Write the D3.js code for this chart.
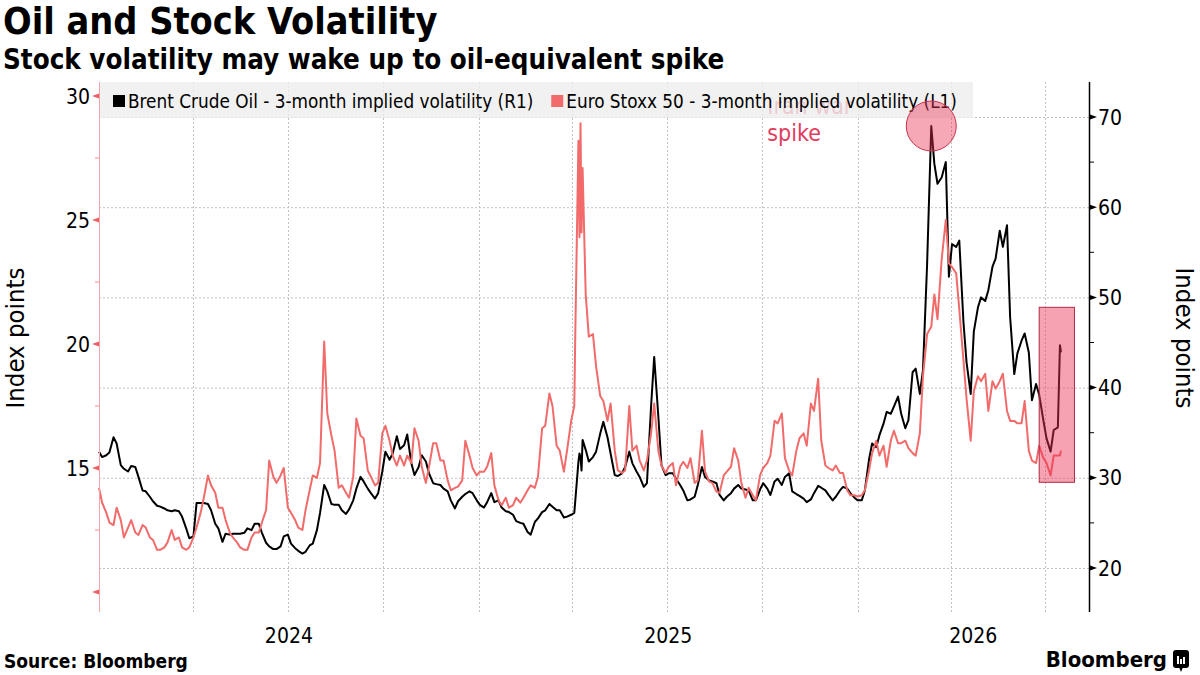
<!DOCTYPE html>
<html lang="en">

<head>
    <meta charset="utf-8">
    <title>Oil and Stock Volatility</title>
    <script src="https://d3js.org/d3.v7.min.js"></script>
    <style>
        body {
            margin: 0;
            background: #fff;
        }

        svg text {
            font-family: "DejaVu Sans Condensed", "DejaVu Sans", sans-serif;
            fill: #000;
        }

        .grid line {
            stroke: #c2c2c2;
            stroke-width: 1px;
            stroke-dasharray: 2, 2;
        }
    </style>
</head>

<body>
    <svg id="chart" width="1200" height="675"></svg>
</body>
<script>
    // twice-weekly readings (Mon / Thu), plus extra days around the spikes
    var dates = [
        "2024-01-01", "2024-01-04", "2024-01-08", "2024-01-11", "2024-01-15", "2024-01-18", "2024-01-22", "2024-01-25",
        "2024-01-29", "2024-02-01", "2024-02-05", "2024-02-08", "2024-02-12", "2024-02-15", "2024-02-19", "2024-02-22",
        "2024-02-26", "2024-02-29", "2024-03-04", "2024-03-07", "2024-03-11", "2024-03-14", "2024-03-18", "2024-03-21",
        "2024-03-25", "2024-03-28", "2024-04-01", "2024-04-04", "2024-04-08", "2024-04-11", "2024-04-15", "2024-04-18",
        "2024-04-22", "2024-04-25", "2024-04-29", "2024-05-02", "2024-05-06", "2024-05-09", "2024-05-13", "2024-05-16",
        "2024-05-20", "2024-05-23", "2024-05-27", "2024-05-30", "2024-06-03", "2024-06-06", "2024-06-10", "2024-06-13",
        "2024-06-17", "2024-06-20", "2024-06-24", "2024-06-27", "2024-07-01", "2024-07-04", "2024-07-08", "2024-07-11",
        "2024-07-15", "2024-07-18", "2024-07-22", "2024-07-25", "2024-07-29", "2024-08-01", "2024-08-05", "2024-08-08",
        "2024-08-12", "2024-08-15", "2024-08-19", "2024-08-22", "2024-08-26", "2024-08-29", "2024-09-02", "2024-09-05",
        "2024-09-09", "2024-09-12", "2024-09-16", "2024-09-19", "2024-09-23", "2024-09-26", "2024-09-30", "2024-10-03",
        "2024-10-07", "2024-10-10", "2024-10-14", "2024-10-17", "2024-10-21", "2024-10-24", "2024-10-28", "2024-10-31",
        "2024-11-04", "2024-11-07", "2024-11-11", "2024-11-14", "2024-11-18", "2024-11-21", "2024-11-25", "2024-11-28",
        "2024-12-02", "2024-12-05", "2024-12-09", "2024-12-12", "2024-12-16", "2024-12-19", "2024-12-23", "2024-12-26", "2024-12-30", "2025-01-02",
        "2025-01-06", "2025-01-09", "2025-01-13", "2025-01-16", "2025-01-20", "2025-01-23", "2025-01-27", "2025-01-30",
        "2025-02-03", "2025-02-06", "2025-02-10", "2025-02-13", "2025-02-17", "2025-02-20", "2025-02-24", "2025-02-27",
        "2025-03-03", "2025-03-06", "2025-03-10", "2025-03-13", "2025-03-17", "2025-03-20", "2025-03-24", "2025-03-27",
        "2025-03-31", "2025-04-03", "2025-04-04", "2025-04-07", "2025-04-08", "2025-04-09", "2025-04-10", "2025-04-11", "2025-04-14", "2025-04-17",
        "2025-04-21", "2025-04-24", "2025-04-28", "2025-05-01", "2025-05-05", "2025-05-08", "2025-05-12", "2025-05-15",
        "2025-05-19", "2025-05-22", "2025-05-26", "2025-05-29", "2025-06-02", "2025-06-05", "2025-06-09", "2025-06-12",
        "2025-06-16", "2025-06-19", "2025-06-23", "2025-06-26", "2025-06-30", "2025-07-03", "2025-07-07", "2025-07-10",
        "2025-07-14", "2025-07-17", "2025-07-21", "2025-07-24", "2025-07-28", "2025-07-31", "2025-08-04", "2025-08-07",
        "2025-08-11", "2025-08-14", "2025-08-18", "2025-08-21", "2025-08-25", "2025-08-28", "2025-09-01", "2025-09-04",
        "2025-09-08", "2025-09-11", "2025-09-15", "2025-09-18", "2025-09-22", "2025-09-25", "2025-09-29", "2025-10-02",
        "2025-10-06", "2025-10-09", "2025-10-13", "2025-10-16", "2025-10-20", "2025-10-23", "2025-10-27", "2025-10-30",
        "2025-11-03", "2025-11-06", "2025-11-10", "2025-11-13", "2025-11-17", "2025-11-20", "2025-11-24", "2025-11-27",
        "2025-12-01", "2025-12-04", "2025-12-08", "2025-12-11", "2025-12-15", "2025-12-18", "2025-12-22", "2025-12-25", "2025-12-29", "2026-01-01",
        "2026-01-05", "2026-01-08", "2026-01-12", "2026-01-15", "2026-01-19", "2026-01-22", "2026-01-26", "2026-01-29",
        "2026-02-02", "2026-02-05", "2026-02-09", "2026-02-12", "2026-02-16", "2026-02-19", "2026-02-23", "2026-02-26",
        "2026-03-02", "2026-03-05", "2026-03-09", "2026-03-13", "2026-03-16", "2026-03-19", "2026-03-23", "2026-03-27",
        "2026-03-30", "2026-04-02", "2026-04-06", "2026-04-09", "2026-04-13", "2026-04-16", "2026-04-20", "2026-04-23",
        "2026-04-27", "2026-04-30", "2026-05-04", "2026-05-07", "2026-05-11", "2026-05-14", "2026-05-18", "2026-05-21",
        "2026-05-25", "2026-05-28", "2026-06-01", "2026-06-04", "2026-06-08", "2026-06-11", "2026-06-15", "2026-06-18",
        "2026-06-22", "2026-06-25", "2026-06-29", "2026-07-02", "2026-07-06", "2026-07-09", "2026-07-13", "2026-07-15", "2026-07-16"
    ];

    // Brent crude 3m implied vol (right axis)
    var oilVol = [
        32.9, 32.3, 32.5, 32.8, 34.5, 33.8, 31.4, 31.0,
        30.7, 31.3, 31.2, 30.1, 28.6, 28.5, 27.9, 27.4,
        26.9, 26.8, 26.6, 26.4, 26.3, 26.4, 26.3, 25.7,
        24.4, 23.3, 23.5, 27.2, 27.2, 27.2, 27.1, 26.4,
        24.9, 24.4, 22.9, 23.8, 23.7, 23.8, 23.8, 23.8,
        23.9, 24.4, 24.2, 24.9, 24.9, 23.9, 22.8, 22.4,
        22.1, 22.1, 22.4, 23.5, 23.7, 22.7, 22.2, 21.9,
        21.6, 21.8, 22.5, 22.7, 24.2, 26.1, 29.2, 28.5,
        27.1, 27.0, 27.0, 26.4, 26.0, 26.5, 27.5, 28.8,
        30.1, 29.6, 28.8, 28.3, 27.7, 28.3, 30.7, 32.9,
        32.0, 32.7, 34.6, 33.2, 33.6, 34.8, 31.6, 30.3,
        31.2, 32.5, 31.8, 30.5, 29.4, 29.3, 29.2, 28.8,
        28.5, 27.5, 26.6, 27.4, 27.9, 28.2, 28.5, 28.3, 27.5, 27.0,
        26.7, 27.3, 28.3, 27.3, 27.5, 26.7, 26.3, 26.2,
        25.9, 25.2, 25.0, 24.9, 24.0, 23.7, 25.1, 25.5,
        26.2, 26.4, 27.1, 26.8, 26.4, 26.4, 25.6, 25.7,
        25.9, 26.1, 27.5, 31.8, 32.7, 32.3, 30.8, 34.2, 33.1, 31.8,
        32.3, 32.9, 34.9, 36.2, 34.5, 32.7, 30.3, 30.2,
        30.5, 31.2, 32.9, 31.6, 30.7, 30.1, 29.0, 29.4,
        37.9, 43.4, 36.8, 31.4, 30.3, 30.5, 30.5, 29.9,
        29.2, 28.6, 27.5, 27.6, 27.9, 29.2, 31.2, 30.1,
        29.7, 29.6, 29.4, 28.1, 27.5, 27.9, 28.3, 28.8,
        29.2, 28.8, 28.7, 28.6, 27.5, 27.5, 28.7, 29.4,
        28.8, 28.1, 29.6, 29.9, 29.2, 30.1, 30.5, 28.5,
        28.2, 28.0, 27.7, 27.3, 27.6, 28.3, 29.1, 28.9,
        28.6, 28.1, 27.5, 27.9, 28.6, 29.0, 28.8, 28.3, 27.8, 27.5,
        27.5, 28.6, 32.0, 33.8, 33.4, 34.7, 36.0, 37.3,
        37.1, 37.9, 39.0, 37.1, 35.5, 36.4, 41.7, 42.1,
        39.3, 41.9, 53.7, 69.0, 64.8, 62.6, 63.3, 65.0,
        52.3, 55.9, 55.6, 56.3, 47.3, 42.8, 39.3, 46.2,
        48.9, 50.0, 49.6, 50.8, 53.4, 54.3, 57.4, 55.6,
        58.0, 47.8, 41.5, 43.8, 45.2, 46.0, 43.9, 38.6,
        40.4, 39.2, 36.4, 34.4, 32.9, 35.3, 35.6, 44.7, 43.9
    ];

    // Euro Stoxx 50 3m implied vol (left axis)
    var stoxxVol = [
        14.2, 13.6, 13.2, 12.8, 12.7, 13.4, 12.9, 12.2,
        12.6, 12.9, 12.4, 12.3, 12.7, 12.6, 12.2, 12.1,
        11.7, 11.7, 11.8, 12.0, 12.5, 12.1, 12.2, 11.8,
        11.7, 11.8, 12.2, 12.6, 13.2, 13.8, 14.7, 14.3,
        14.0, 13.4, 13.4, 12.9, 12.4, 12.2, 12.0, 11.8,
        11.7, 11.7, 12.2, 12.4, 12.4, 12.8, 13.3, 15.3,
        14.65, 14.4, 14.7, 15.0, 13.4, 13.2, 12.9, 12.6,
        12.5, 13.3, 14.1, 14.7, 14.6, 15.2, 20.1, 17.2,
        16.3, 15.7, 14.2, 14.3, 14.0, 13.8, 14.65, 17.0,
        16.3, 16.2, 14.9, 14.65, 14.3, 14.4, 16.4, 16.7,
        16.1, 15.5, 15.1, 15.5, 15.1, 15.5, 15.2, 16.6,
        16.1, 15.05, 14.4, 15.05, 16.0, 16.0, 15.3, 15.3,
        14.5, 14.1, 14.2, 14.25, 14.5, 16.1, 15.5, 15.0, 14.7, 14.85,
        14.85, 15.05, 15.6, 14.3, 13.7, 13.5, 13.8, 13.4,
        13.5, 13.8, 13.6, 13.8, 14.1, 14.3, 14.2, 14.65,
        16.6, 16.7, 18.0, 17.5, 15.9, 15.7, 14.85, 15.7,
        16.9, 17.5, 20.5, 28.2, 24.3, 28.9, 24.5, 27.1, 22.0, 20.3,
        20.4, 19.1, 17.9, 17.7, 16.9, 17.6, 15.7, 14.9,
        14.8, 14.9, 17.5, 15.7, 15.9, 15.3, 14.9, 15.3,
        16.4, 17.6, 15.7, 15.1, 14.8, 15.05, 15.2, 14.3,
        15.05, 15.25, 15.0, 15.4, 14.4, 14.5, 16.5, 14.85,
        14.45, 14.4, 14.05, 14.0, 14.7, 14.85, 15.05, 15.8,
        15.3, 14.4, 13.8, 14.2, 13.9, 13.7, 14.7, 15.0,
        15.2, 15.5, 16.9, 16.8, 17.2, 15.4, 14.9, 14.7,
        15.7, 16.2, 16.4, 15.9, 17.6, 17.3, 18.6, 16.1,
        15.1, 15.0, 14.9, 15.1, 14.8, 14.8, 14.1, 13.9, 13.9, 13.85,
        13.9, 14.1, 14.9, 15.6, 16.1, 15.5, 15.9, 15.05,
        16.1, 16.5, 16.0, 16.0, 16.1, 15.8, 15.6, 15.5,
        16.4, 18.7, 20.4, 20.7, 22.0, 21.0, 23.4, 25.0,
        23.25, 23.1, 22.85, 21.4, 19.35, 17.8, 16.1, 18.1,
        18.7, 18.5, 18.8, 17.3, 18.5, 18.2, 18.5, 18.8,
        17.3, 16.9, 16.9, 16.8, 16.8, 17.7, 15.7, 15.3,
        15.2, 15.9, 15.4, 15.2, 14.7, 15.5, 15.5, 15.5, 15.7
    ];

    var leftTicks = [10, 15, 20, 25, 30];
    var leftMinor = [12.5, 17.5, 22.5, 27.5];
    var rightTicks = [20, 30, 40, 50, 60, 70];
    var rightMinor = [25, 35, 45, 55, 65];
    var years = ["2024", "2025", "2026"];
    var seriesNames = ["Brent Crude Oil - 3-month implied volatility (R1)", "Euro Stoxx 50 - 3-month implied volatility (L1)"];

    // annotations
    var spikeDate = "2026-03-13";
    var spikeText = ["Iran war", "spike"];
    var spikeTextAt = { date: "2025-10-06", value: 70.3 };
    var recentBox = { from: "2026-06-25", to: "2026-07-29", low: 29.5, high: 48.9 };

    var OIL_COLOR = "#000000";
    var STOXX_COLOR = "#f26b6b";
    var NOTE_COLOR = "#e23c5c";

    var plot = { left: 99, right: 1089, top: 82, bottom: 612 };

    var parse = d3.timeParse("%Y-%m-%d");
    var pts = dates.map(function (d, i) {
        return { date: parse(d), oil: oilVol[i], stoxx: stoxxVol[i] };
    });

    var x = d3.scaleTime()
        .domain([parse("2024-01-01"), parse("2026-08-12")])
        .range([plot.left, plot.right]);
    var yL = d3.scaleLinear().domain([10, 30]).range([592, 96]);
    var yR = d3.scaleLinear().domain([20, 70]).range([568, 117]);

    var svg = d3.select("#chart");

    // titles
    svg.append("text")
        .attr("x", 3).attr("y", 34)
        .style("font-size", "37.5px").style("font-weight", "bold")
        .text("Oil and Stock Volatility");
    svg.append("text")
        .attr("x", 3).attr("y", 69)
        .style("font-size", "27.5px").style("font-weight", "bold")
        .text("Stock volatility may wake up to oil-equivalent spike");

    // grid
    var grid = svg.append("g").attr("class", "grid");
    grid.selectAll(".h").data(rightTicks).enter().append("line")
        .attr("x1", plot.left).attr("x2", plot.right)
        .attr("y1", d => yR(d) + 0.5).attr("y2", d => yR(d) + 0.5);
    grid.selectAll(".v").data(d3.timeMonths(parse("2024-04-01"), x.domain()[1], 3)).enter().append("line")
        .attr("x1", d => Math.round(x(d)) + 0.5).attr("x2", d => Math.round(x(d)) + 0.5)
        .attr("y1", plot.top).attr("y2", plot.bottom);

    // annotation text (sits under the legend)
    svg.append("g").selectAll("text").data(spikeText).enter().append("text")
        .attr("x", x(parse(spikeTextAt.date)))
        .attr("y", (d, i) => yR(spikeTextAt.value) + i * 27)
        .style("font-size", "23px")
        .style("fill", NOTE_COLOR)
        .text(d => d);

    // lines
    var oilLine = d3.line().x(d => x(d.date)).y(d => yR(d.oil));
    var stoxxLine = d3.line().x(d => x(d.date)).y(d => yL(d.stoxx));

    svg.append("path")
        .attr("d", oilLine(pts))
        .attr("fill", "none").attr("stroke", OIL_COLOR)
        .attr("stroke-width", 2).attr("stroke-linejoin", "round");
    svg.append("path")
        .attr("d", stoxxLine(pts))
        .attr("fill", "none").attr("stroke", STOXX_COLOR)
        .attr("stroke-width", 2).attr("stroke-linejoin", "round");

    // legend
    var legend = svg.append("g");
    legend.append("rect")
        .attr("x", plot.left).attr("y", plot.top)
        .attr("width", 874).attr("height", 36)
        .attr("fill", "#eeeeee").attr("opacity", 0.8);
    legend.append("rect")
        .attr("x", 113).attr("y", 95).attr("width", 12).attr("height", 12)
        .attr("fill", OIL_COLOR);
    var t1 = legend.append("text")
        .attr("x", 128).attr("y", 108)
        .style("font-size", "18.8px")
        .text(seriesNames[0]);
    var x2 = 128 + t1.node().getComputedTextLength() + 18;
    legend.append("rect")
        .attr("x", x2).attr("y", 95).attr("width", 12).attr("height", 12)
        .attr("fill", STOXX_COLOR);
    legend.append("text")
        .attr("x", x2 + 15).attr("y", 108)
        .style("font-size", "18.8px")
        .text(seriesNames[1]);

    // spike circle and recent box
    var peak = pts.find(d => d3.timeFormat("%Y-%m-%d")(d.date) === spikeDate);
    svg.append("circle")
        .attr("cx", x(peak.date)).attr("cy", yR(peak.oil))
        .attr("r", 25)
        .attr("fill", "rgba(236,48,84,0.42)")
        .attr("stroke", "#c8324f").attr("stroke-width", 1);
    svg.append("rect")
        .attr("x", x(parse(recentBox.from)))
        .attr("y", yR(recentBox.high))
        .attr("width", x(parse(recentBox.to)) - x(parse(recentBox.from)))
        .attr("height", yR(recentBox.low) - yR(recentBox.high))
        .attr("fill", "rgba(236,48,84,0.45)")
        .attr("stroke", "#b02a45").attr("stroke-width", 1);

    // left axis (Euro Stoxx)
    var la = svg.append("g");
    la.append("line")
        .attr("x1", plot.left + 0.5).attr("x2", plot.left + 0.5)
        .attr("y1", plot.top).attr("y2", plot.bottom)
        .attr("stroke", "#f4a6a6").attr("stroke-width", 1);
    la.selectAll(".tri").data(leftTicks).enter().append("path")
        .attr("d", d => "M" + (plot.left) + "," + (yL(d) - 2.5) + "L" + (plot.left) + "," + (yL(d) + 2.5) + "L" + (plot.left - 7) + "," + yL(d) + "Z")
        .attr("fill", "#ec5f64");
    la.selectAll(".mn").data(leftMinor).enter().append("line")
        .attr("x1", plot.left - 4).attr("x2", plot.left)
        .attr("y1", d => yL(d)).attr("y2", d => yL(d))
        .attr("stroke", "#f08a8a");
    la.selectAll(".lbl").data(leftTicks.filter(d => d > 10)).enter().append("text")
        .attr("x", 90).attr("y", d => yL(d) + 7.5)
        .attr("text-anchor", "end")
        .style("font-size", "21px")
        .text(d => d);

    // right axis (Brent)
    var ra = svg.append("g");
    ra.append("line")
        .attr("x1", plot.right + 0.5).attr("x2", plot.right + 0.5)
        .attr("y1", plot.top).attr("y2", plot.bottom)
        .attr("stroke", "#000").attr("stroke-width", 1.5);
    ra.selectAll(".tri").data(rightTicks).enter().append("path")
        .attr("d", d => "M" + (plot.right + 1) + "," + (yR(d) - 2.5) + "L" + (plot.right + 1) + "," + (yR(d) + 2.5) + "L" + (plot.right + 8) + "," + yR(d) + "Z")
        .attr("fill", "#000");
    ra.selectAll(".mn").data(rightMinor).enter().append("line")
        .attr("x1", plot.right).attr("x2", plot.right + 5)
        .attr("y1", d => yR(d)).attr("y2", d => yR(d))
        .attr("stroke", "#000");
    ra.selectAll(".lbl").data(rightTicks).enter().append("text")
        .attr("x", plot.right + 9).attr("y", d => yR(d) + 7.5)
        .style("font-size", "21px")
        .text(d => d);

    // axis titles
    svg.append("text")
        .attr("transform", "translate(24,338) rotate(-90)")
        .attr("text-anchor", "middle")
        .style("font-size", "25.5px")
        .text("Index points");
    svg.append("text")
        .attr("transform", "translate(1176,338) rotate(90)")
        .attr("text-anchor", "middle")
        .style("font-size", "25.5px")
        .text("Index points");

    // year labels, centred in each year's visible span
    svg.append("g").selectAll("text").data(years).enter().append("text")
        .attr("x", function (d) {
            var a = parse(d + "-01-01");
            var b = d3.min([parse((+d + 1) + "-01-01"), x.domain()[1]]);
            return (x(a) + x(b)) / 2;
        })
        .attr("y", 643)
        .attr("text-anchor", "middle")
        .style("font-size", "21px")
        .text(d => d);

    // footer
    svg.append("text")
        .attr("x", 4).attr("y", 668)
        .style("font-size", "19px").style("font-weight", "bold")
        .text("Source: Bloomberg");

    svg.append("text")
        .attr("x", 1167).attr("y", 667)
        .attr("text-anchor", "end")
        .style("font-size", "22px").style("font-weight", "bold")
        .text("Bloomberg");
    var logo = svg.append("g").attr("transform", "translate(1173,650)");
    logo.append("rect").attr("width", 16).attr("height", 18).attr("rx", 3).attr("fill", "#000");
    logo.append("path").attr("d", "M6,17 L8,22 L10,17 Z").attr("fill", "#000");
    logo.selectAll(".bar").data([[4, 8], [7, 5], [10, 7]]).enter().append("rect")
        .attr("x", d => d[0]).attr("y", d => 14 - d[1])
        .attr("width", 2).attr("height", d => d[1])
        .attr("fill", "#fff");
</script>

</html>
